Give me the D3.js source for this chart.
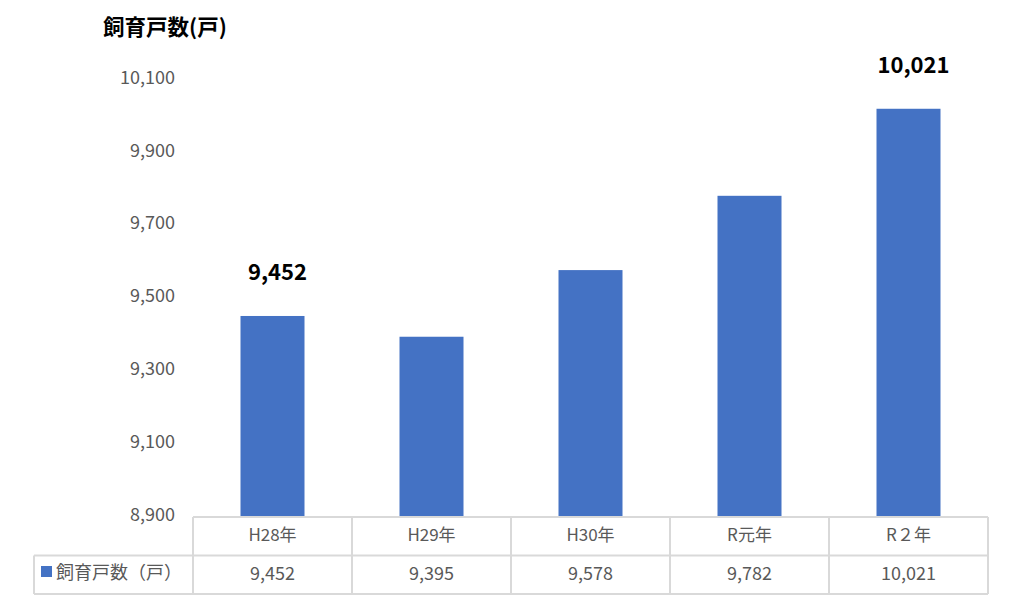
<!DOCTYPE html>
<html><head><meta charset="utf-8">
<script src="https://cdn.jsdelivr.net/npm/d3@7"></script>
<style>body{margin:0;background:#fff;}svg{display:block;font-family:"Noto Sans CJK JP","Noto Sans",sans-serif;}</style>
</head><body>
<svg id="c" width="1011" height="603"></svg>
<script>
const categories = ["H28年", "H29年", "H30年", "R元年", "R２年"];
const values = [9452, 9395, 9578, 9782, 10021];
const seriesName = "飼育戸数（戸）";
const yTicks = [8900, 9100, 9300, 9500, 9700, 9900, 10100];
const labeledIdx = [0, 4];

const svg = d3.select("#c");
const x = d3.scaleBand().domain(categories).range([193, 988]).paddingInner(0).paddingOuter(0);
const y = d3.scaleLinear().domain([8900, 10100]).range([517, 80]);
const fmt = d3.format(",");
const bw = 64;

// title
svg.append("text").attr("x", 103).attr("y", 35).attr("font-size", 21.5).attr("font-weight", "bold").attr("fill", "#000").text("飼育戸数(戸)");

// y axis labels
const yAxis = d3.axisLeft(y).tickValues(yTicks).tickFormat(fmt).tickSize(0).tickPadding(0);
const ga = svg.append("g").attr("transform", "translate(175,0)").call(yAxis);
ga.select(".domain").remove();
ga.selectAll("text").attr("font-size", 18).attr("fill", "#595959").attr("font-family", "'Noto Sans CJK JP','Noto Sans',sans-serif").attr("dy", "0.18em");

// bars
svg.append("g").selectAll("rect").data(values).join("rect")
  .attr("x", (d, i) => x(categories[i]) + x.bandwidth() / 2 - bw / 2)
  .attr("width", bw)
  .attr("y", d => y(d))
  .attr("height", d => y(8900) - y(d))
  .attr("fill", "#4472C4");

// data labels
svg.append("g").selectAll("text").data(labeledIdx).join("text")
  .attr("x", i => x(categories[i]) + x.bandwidth() / 2 + 5)
  .attr("y", i => y(values[i]) - 36)
  .attr("text-anchor", "middle").attr("font-size", 22).attr("font-weight", "bold").attr("fill", "#000")
  .text(i => fmt(values[i]));

// table
const grid = svg.append("g").attr("stroke", "#d9d9d9").attr("stroke-width", 2).attr("fill", "none");
const rowTop = 517, rowMid = 555.5, rowBot = 594;
grid.append("line").attr("x1", 193).attr("x2", 988).attr("y1", rowTop).attr("y2", rowTop);
grid.append("line").attr("x1", 34).attr("x2", 988).attr("y1", rowMid).attr("y2", rowMid);
grid.append("line").attr("x1", 34).attr("x2", 988).attr("y1", rowBot).attr("y2", rowBot);
grid.append("line").attr("x1", 34).attr("x2", 34).attr("y1", rowMid).attr("y2", rowBot);
const edges = categories.map(c => x(c)).concat([x(categories[categories.length - 1]) + x.bandwidth()]);
grid.selectAll("line.v").data(edges).join("line").attr("class", "v")
  .attr("x1", d => d).attr("x2", d => d).attr("y1", rowTop).attr("y2", rowBot);

svg.append("g").selectAll("text").data(categories).join("text")
  .attr("x", d => x(d) + x.bandwidth() / 2).attr("y", 535).attr("dy", "0.35em")
  .attr("text-anchor", "middle").attr("font-size", 17).attr("fill", "#595959").text(d => d);
svg.append("g").selectAll("text").data(values).join("text")
  .attr("x", (d, i) => x(categories[i]) + x.bandwidth() / 2).attr("y", 574).attr("dy", "0.35em")
  .attr("text-anchor", "middle").attr("font-size", 18).attr("fill", "#595959").text(d => fmt(d));

// legend
svg.append("rect").attr("x", 41).attr("y", 566).attr("width", 11).attr("height", 11).attr("fill", "#4472C4");
svg.append("text").attr("x", 56).attr("y", 573).attr("dy", "0.35em").attr("font-size", 18).attr("fill", "#595959").text(seriesName);
</script>
</body></html>
